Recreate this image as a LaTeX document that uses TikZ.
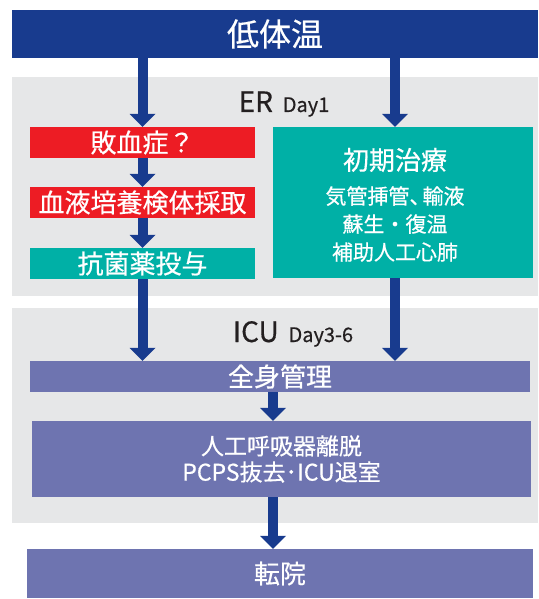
\documentclass[tikz,border=0pt]{standalone}
\usepackage{fontspec}
\setmainfont[FakeBold=0.5]{Noto Sans CJK JP}
\usetikzlibrary{arrows.meta}

\definecolor{navy}{RGB}{24,59,142}
\definecolor{panelgray}{RGB}{230,231,232}
\definecolor{alarmred}{RGB}{237,28,36}
\definecolor{careteal}{RGB}{0,176,166}
\definecolor{wardpurple}{RGB}{110,116,176}
\definecolor{inkdark}{RGB}{35,31,32}

\tikzstyle{bar} = [fill=navy, text=white, inner sep=0pt, font=\fontsize{32pt}{36pt}\selectfont]
\tikzstyle{panel} = [fill=panelgray, inner sep=0pt]
\tikzstyle{stage} = [text=inkdark, inner sep=0pt, font=\fontsize{28pt}{30pt}\selectfont]
\tikzstyle{box} = [text=white, inner sep=0pt, font=\fontsize{26pt}{30pt}\selectfont]
\tikzstyle{flow} = [draw=navy, line width=10pt, -{Triangle[width=26pt,length=13pt,line width=0pt]}]

\begin{document}
\begin{tikzpicture}[x=1pt, y=-1pt]
\useasboundingbox (0,0) rectangle (538,599);
\node[panel, minimum width=526pt, minimum height=219pt] (erpanel) at (275,186.5) {};
\node[panel, minimum width=526pt, minimum height=215pt] (icupanel) at (275,415.5) {};
\node[bar, minimum width=526pt, minimum height=48pt] (top) at (275,34) {低体温};
\node[stage, anchor=base] (erlabel) at (284,112) {ER\hspace{0.35em}{\fontsize{20pt}{22pt}\selectfont Day1}};
\node[stage, anchor=base] (iculabel) at (293,342) {ICU\hspace{0.35em}{\fontsize{20pt}{22pt}\selectfont Day3-6}};
\node[box, fill=alarmred, minimum width=225pt, minimum height=31pt] (sepsis) at (142.5,142.5) {敗血症？};
\node[box, fill=alarmred, minimum width=225pt, minimum height=31pt] (culture) at (142.5,202.5) {血液培養検体採取};
\node[box, fill=careteal, minimum width=225pt, minimum height=31pt] (abx) at (142.5,263.5) {抗菌薬投与};
\node[box, fill=careteal, minimum width=260pt, minimum height=151pt] (care) at (403,202.5) {};
\node[box] (caretitle) at (395,160) {初期治療};
\node[box, align=center, font=\fontsize{21pt}{28pt}\selectfont] (carelist) at (395,224) {気管挿管、\kern-8pt 輸液\\蘇生・復温\\補助人工心肺};
\node[box, fill=wardpurple, minimum width=500pt, minimum height=31pt] (whole) at (280,376.5) {全身管理};
\node[box, fill=wardpurple, minimum width=499pt, minimum height=76pt, align=center, font=\fontsize{23pt}{26pt}\selectfont] (wean) at (281.5,459) {人工呼吸器離脱\\PCPS抜去･ICU退室};
\node[box, fill=wardpurple, minimum width=506pt, minimum height=49pt] (transfer) at (280,573.5) {転院};
\coordinate (mid) at (273,0);

\draw[flow] (sepsis.north |- top.south) -- (sepsis.north);
\draw[flow] (sepsis.south) -- (culture.north);
\draw[flow] (culture.south) -- (abx.north);
\draw[flow] (abx.south) -- (abx.south |- whole.north);
\draw[flow] (caretitle |- top.south) -- (caretitle |- care.north);
\draw[flow] (caretitle |- care.south) -- (caretitle |- whole.north);
\draw[flow] (mid |- whole.south) -- (mid |- wean.north);
\draw[flow] (mid |- wean.south) -- (mid |- transfer.north);
\end{tikzpicture}
\end{document}
